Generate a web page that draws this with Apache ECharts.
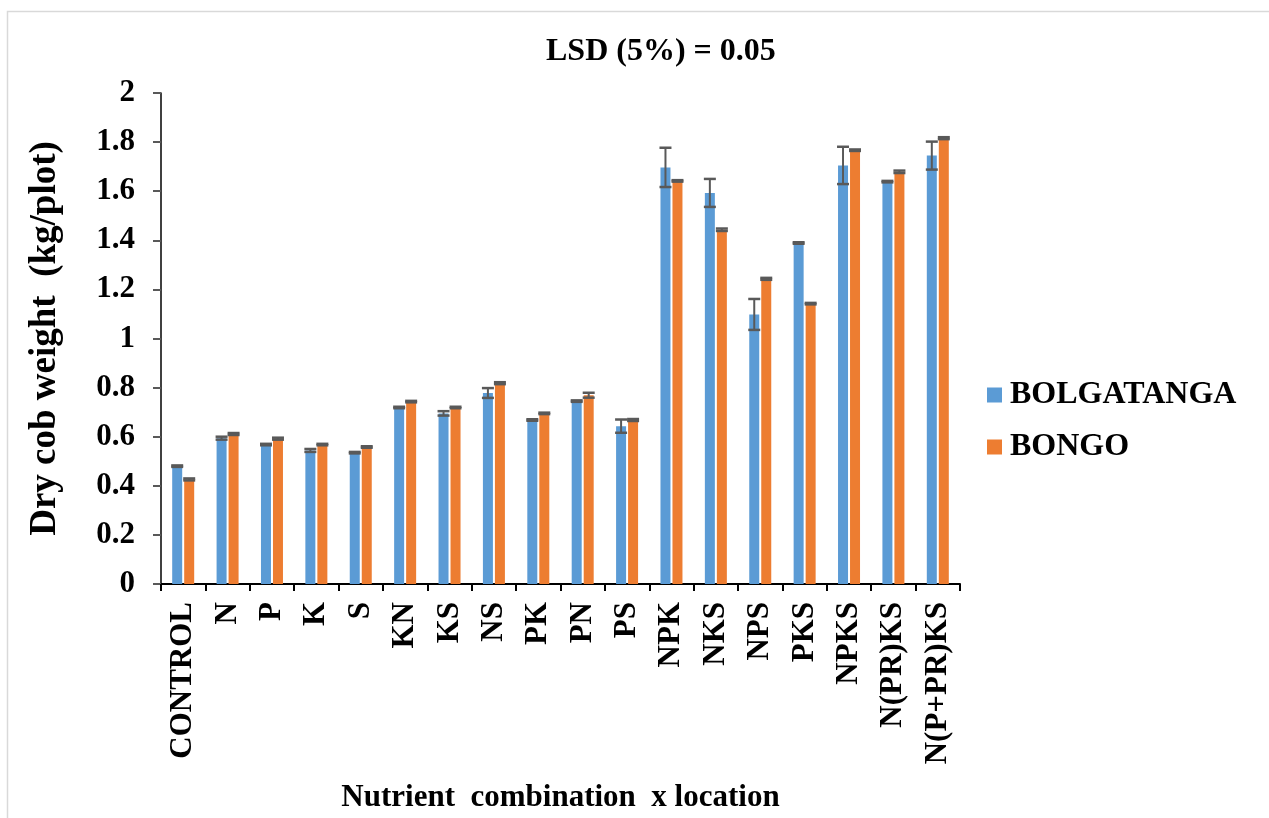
<!DOCTYPE html>
<html>
<head>
<meta charset="utf-8">
<script src="https://cdn.jsdelivr.net/npm/echarts@6/dist/echarts.min.js"></script>
<style>
html,body{margin:0;padding:0;background:#fff;}
#chart{width:1269px;height:818px;}
</style>
</head>
<body>
<div id="chart"></div>
<script>
var categories = ['CONTROL','N','P','K','S','KN','KS','NS','PK','PN','PS','NPK','NKS','NPS','PKS','NPKS','N(PR)KS','N(P+PR)KS'];
var bolgatanga = [0.48,0.594,0.568,0.544,0.535,0.719,0.695,0.778,0.668,0.745,0.643,1.697,1.593,1.098,1.389,1.705,1.639,1.745];
var bongo      = [0.426,0.611,0.592,0.568,0.558,0.743,0.719,0.818,0.695,0.769,0.668,1.642,1.443,1.243,1.142,1.767,1.679,1.816];
var bolgaErr   = [0.003,0.006,0.003,0.006,0.003,0.003,0.009,0.02,0.003,0.003,0.027,0.08,0.057,0.063,0.003,0.076,0.003,0.057];
var bongoErr   = [0.004,0.004,0.004,0.003,0.003,0.003,0.003,0.004,0.003,0.01,0.004,0.003,0.005,0.004,0.003,0.003,0.005,0.004];
var yTicks = {min:0, max:2, interval:0.2};

var FONT = '"Liberation Serif","Times New Roman",serif';
var BAR_W = 10, GAP = 2;

function errSeries(vals, errs, sign){
  var data = vals.map(function(v,i){ return [i, v, errs[i]]; });
  return {
    type:'custom',
    z: 10,
    silent: true,
    data: data,
    encode: {x:0, y:1},
    renderItem: function(params, api){
      var i = api.value(0), v = api.value(1), e = api.value(2);
      var hi = api.coord([i, v + e]);
      var lo = api.coord([i, v - e]);
      var x = hi[0] + sign * (BAR_W + GAP) / 2;
      var capW = 6;
      var st = {stroke:'#595959', lineWidth:2};
      return {type:'group', children:[
        {type:'line', shape:{x1:x, y1:hi[1], x2:x, y2:lo[1]}, style:st},
        {type:'line', shape:{x1:x-capW, y1:hi[1], x2:x+capW, y2:hi[1]}, style:{stroke:'#595959', lineWidth:2.5}},
        {type:'line', shape:{x1:x-capW, y1:lo[1], x2:x+capW, y2:lo[1]}, style:{stroke:'#595959', lineWidth:2.5}}
      ]};
    }
  };
}

var chart = echarts.init(document.getElementById('chart'));
chart.setOption({
  backgroundColor:'#fff',
  animation:false,
  graphic:[{type:'rect', shape:{x:7.5, y:11.5, width:1280, height:830}, style:{fill:'none', stroke:'#d9d9d9', lineWidth:1.5}, z:-1}],
  title:{
    text:'LSD (5%) = 0.05',
    left:541, top:31,
    textStyle:{fontFamily:FONT, fontWeight:'bold', fontSize:32, color:'#000', lineHeight:32}
  },
  legend:{
    orient:'vertical',
    left:982, top:374,
    itemWidth:15, itemHeight:15, itemGap:20,
    icon:'rect',
    textStyle:{fontFamily:FONT, fontWeight:'bold', fontSize:32, color:'#000', lineHeight:32, padding:[0,0,0,3]},
    data:['BOLGATANGA','BONGO']
  },
  grid:{left:161, right:309, top:93, bottom:224, containLabel:false},
  xAxis:{
    type:'category',
    data:categories,
    name:'Nutrient  combination  x location',
    nameLocation:'middle',
    nameGap:198,
    nameTextStyle:{fontFamily:FONT, fontWeight:'bold', fontSize:31, color:'#000'},
    axisLine:{lineStyle:{color:'#000', width:2}},
    axisTick:{show:true, length:7, lineStyle:{color:'#000', width:2}},
    axisLabel:{rotate:90, interval:0, margin:18, fontFamily:FONT, fontWeight:'bold', fontSize:31, color:'#000'}
  },
  yAxis:{
    type:'value',
    min:yTicks.min, max:yTicks.max, interval:yTicks.interval,
    name:'Dry cob weight  (kg/plot)',
    nameLocation:'middle',
    nameGap:97,
    nameRotate:90,
    nameTextStyle:{fontFamily:FONT, fontWeight:'bold', fontSize:37, color:'#000'},
    axisLine:{show:true, lineStyle:{color:'#000', width:1.5}},
    axisTick:{show:true, length:8, lineStyle:{color:'#595959', width:2}},
    splitLine:{show:false},
    axisLabel:{margin:26, fontFamily:FONT, fontWeight:'bold', fontSize:31, color:'#000'}
  },
  series:[
    {name:'BOLGATANGA', type:'bar', data:bolgatanga, barWidth:BAR_W, barGap:'20%', itemStyle:{color:'#5B9BD5'}},
    {name:'BONGO', type:'bar', data:bongo, barWidth:BAR_W, barGap:'20%', itemStyle:{color:'#ED7D31'}},
    errSeries(bolgatanga, bolgaErr, -1),
    errSeries(bongo, bongoErr, 1)
  ]
});
</script>
</body>
</html>
